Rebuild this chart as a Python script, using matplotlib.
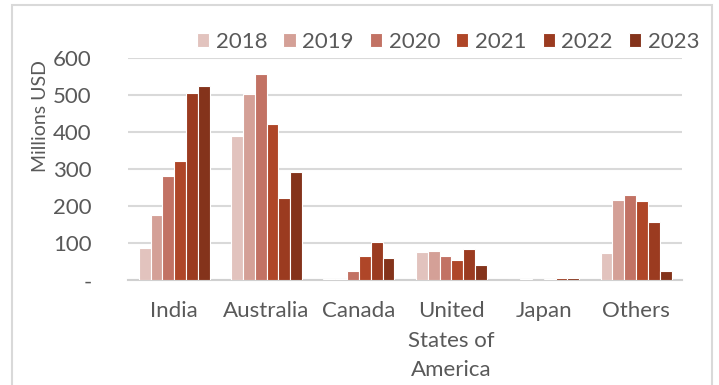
import numpy as np
import matplotlib
matplotlib.use("Agg")
import matplotlib.pyplot as plt
from matplotlib.patches import Rectangle

# values in millions USD, per supplier and year
suppliers = ["India", "Australia", "Canada", "United\nStates of\nAmerica", "Japan", "Others"]
years = ["2018", "2019", "2020", "2021", "2022", "2023"]
v2018 = [87, 391, 3, 76, 1, 74]
v2019 = [177, 502, 3, 79, 3, 216]
v2020 = [282, 558, 26, 65, 1, 231]
v2021 = [322, 422, 65, 55, 3, 215]
v2022 = [505, 222, 104, 85, 7, 158]
v2023 = [524, 292, 59, 40, 6, 26]
series = [v2018, v2019, v2020, v2021, v2022, v2023]
colors = ["#E2C3BE", "#D4A097", "#C27264", "#AF4628", "#9B3B20", "#84331B"]

plt.rcParams["font.family"] = ["Lato", "DejaVu Sans"]
txt = "#595959"
fs = 16

fig = plt.figure(figsize=(7.19, 3.85), dpi=100)
ax = fig.add_axes([0.178, 0.272, 0.771, 0.577])

x = np.arange(len(suppliers))
w = 0.128
for i, (vals, c) in enumerate(zip(series, colors)):
    ax.bar(x + (i - 2.5) * w, vals, width=w, color=c, edgecolor="white",
           linewidth=0.8, label=years[i], zorder=3)

ax.set_xlim(-0.5, 5.5)
ax.set_ylim(0, 600)
ax.set_yticks(range(0, 601, 100))
ax.set_yticklabels(["-"] + [str(v) for v in range(100, 601, 100)])
ax.set_xticks(x)
ax.set_xticklabels(suppliers, linespacing=1.6)
ax.tick_params(axis="both", length=0, labelsize=fs, colors=txt)
ax.tick_params(axis="y", pad=26)
ax.tick_params(axis="x", pad=15)
ax.grid(axis="y", color="#D9D9D9", linewidth=1.5, zorder=0)
for s in ["top", "right", "left"]:
    ax.spines[s].set_visible(False)
ax.spines["bottom"].set_color("#D0D0D0")
ax.spines["bottom"].set_linewidth(1.5)

ax.set_ylabel("Millions USD", fontsize=14, color=txt)
ax.yaxis.set_label_coords(-0.143, 0.74)

ax.legend(loc="center right", bbox_to_anchor=(0.985, 0.891), bbox_transform=fig.transFigure,
          ncol=6, frameon=False, fontsize=fs, labelcolor=txt, handlelength=0.55,
          handleheight=0.55, handletextpad=0.3, columnspacing=0.72, borderaxespad=0)

# chart border
fig.patches.append(Rectangle((12 / 719, -0.05), 700 / 719, 1.037, transform=fig.transFigure,
                             fill=False, edgecolor="#D9D9D9", linewidth=1.5))

fig.savefig("out.png", dpi=100)
